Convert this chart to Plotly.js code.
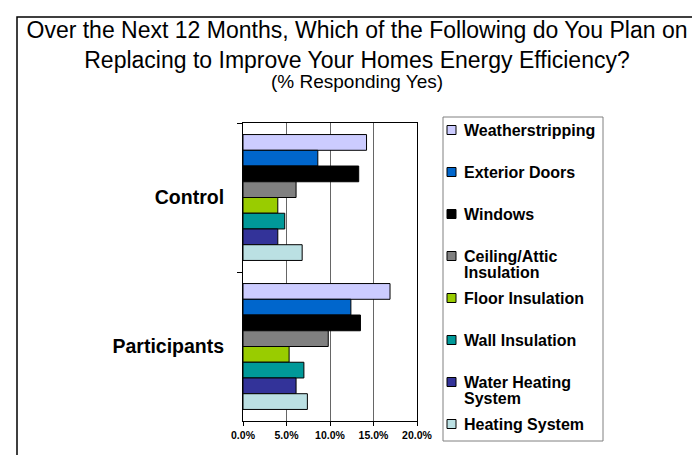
<!DOCTYPE html>
<html>
<head>
<meta charset="utf-8">
<script src="https://cdn.plot.ly/plotly-3.0.1.min.js"></script>
<style>html,body{margin:0;padding:0;background:#fff;}#chart{width:692px;height:455px;}</style>
</head>
<body>
<div id="chart"></div>
<script>
// ---- data ----
var groups = ["Control", "Participants"];
var seriesNames = ["Weatherstripping", "Exterior Doors", "Windows", "Ceiling/Attic<br>Insulation", "Floor Insulation", "Wall Insulation", "Water Heating<br>System", "Heating System"];
var controlValues = [14.2, 8.6, 13.3, 6.1, 4.0, 4.8, 4.0, 6.8];
var participantValues = [16.9, 12.4, 13.5, 9.8, 5.3, 7.0, 6.1, 7.4];
var seriesColors = ["#CCCCFF", "#0066CC", "#000000", "#808080", "#99CC00", "#009999", "#333399", "#BBE0E3"];
var xTickValues = [0, 5, 10, 15, 20];
var xTickLabels = ["0.0%", "5.0%", "10.0%", "15.0%", "20.0%"];

var FONT = "Liberation Sans, Arial, Helvetica, sans-serif";
var W = 692, H = 455;
var M = {l: 243, r: 275, t: 123, b: 34};
var PW = W - M.l - M.r, PH = H - M.t - M.b;
function px(x) { return (x - M.l) / PW; }
function py(y) { return (H - M.b - y) / PH; }

var traces = seriesNames.map(function (n, i) {
  return {
    type: "bar",
    orientation: "h",
    name: n.replace("<br>", " "),
    y: groups,
    x: [controlValues[i], participantValues[i]],
    marker: {color: seriesColors[i], line: {color: "#000000", width: 1}},
    showlegend: false,
    hoverinfo: "x+name"
  };
});

var shapes = [];
var annotations = [];
// outer frame
shapes.push({type: "rect", xref: "paper", yref: "paper", x0: px(17), x1: px(720), y0: py(480), y1: py(17),
  line: {color: "#000", width: 1.5}, fillcolor: "rgba(0,0,0,0)", layer: "below"});
// legend box
shapes.push({type: "rect", xref: "paper", yref: "paper", x0: px(443), x1: px(603), y0: py(441), y1: py(117),
  line: {color: "#808080", width: 1}, fillcolor: "#fff"});
// legend entries
seriesNames.forEach(function (n, i) {
  var yc = 130 + i * 42;
  shapes.push({type: "rect", xref: "paper", yref: "paper", x0: px(447), x1: px(456), y0: py(yc + 4.5), y1: py(yc - 4.5),
    line: {color: "#000", width: 1}, fillcolor: seriesColors[i]});
  n.split("<br>").forEach(function (line, k) {
    annotations.push({xref: "paper", yref: "paper", x: px(462), y: py(yc + k * 16), xanchor: "left", yanchor: "middle",
      text: line, showarrow: false, font: {family: FONT, size: 16, weight: 700, color: "#000"}});
  });
});
// subtitle
annotations.push({xref: "paper", yref: "paper", x: px(357), y: py(82), xanchor: "center", yanchor: "middle",
  text: "(% Responding Yes)", showarrow: false, font: {family: FONT, size: 19, color: "#000"}});

var layout = {
  width: W, height: H,
  margin: M,
  paper_bgcolor: "#fff",
  plot_bgcolor: "rgba(0,0,0,0)",
  font: {family: FONT, color: "#000"},
  title: {
    text: "Over the Next 12 Months, Which of the Following do You Plan on<br>Replacing to Improve Your Homes Energy Efficiency?",
    font: {family: FONT, size: 23, color: "#000"},
    x: 357 / W, xanchor: "center", xref: "container",
    y: 1 - 38 / H, yanchor: "top", yref: "container"
  },
  barmode: "group",
  bargap: 0.155,
  bargroupgap: 0,
  xaxis: {
    range: [0, 20],
    tickvals: xTickValues,
    ticktext: xTickLabels,
    ticks: "outside", ticklen: 4, tickcolor: "#000",
    showgrid: true, gridcolor: "#666", gridwidth: 1,
    showline: true, linecolor: "#000", linewidth: 1, mirror: true,
    zeroline: false,
    tickfont: {family: FONT, size: 10.5, weight: 700, color: "#000"}
  },
  yaxis: {
    type: "category",
    categoryorder: "array", categoryarray: groups,
    autorange: "reversed",
    tickson: "boundaries",
    ticks: "outside", ticklen: 5, tickcolor: "#000",
    ticklabelstandoff: 14,
    showgrid: false,
    showline: true, linecolor: "#000", linewidth: 1, mirror: true,
    zeroline: false,
    tickfont: {family: FONT, size: 19.5, weight: 700, color: "#000"}
  },
  shapes: shapes,
  annotations: annotations,
  showlegend: false
};

Plotly.newPlot("chart", traces, layout, {displayModeBar: false, staticPlot: true});
</script>
</body>
</html>
